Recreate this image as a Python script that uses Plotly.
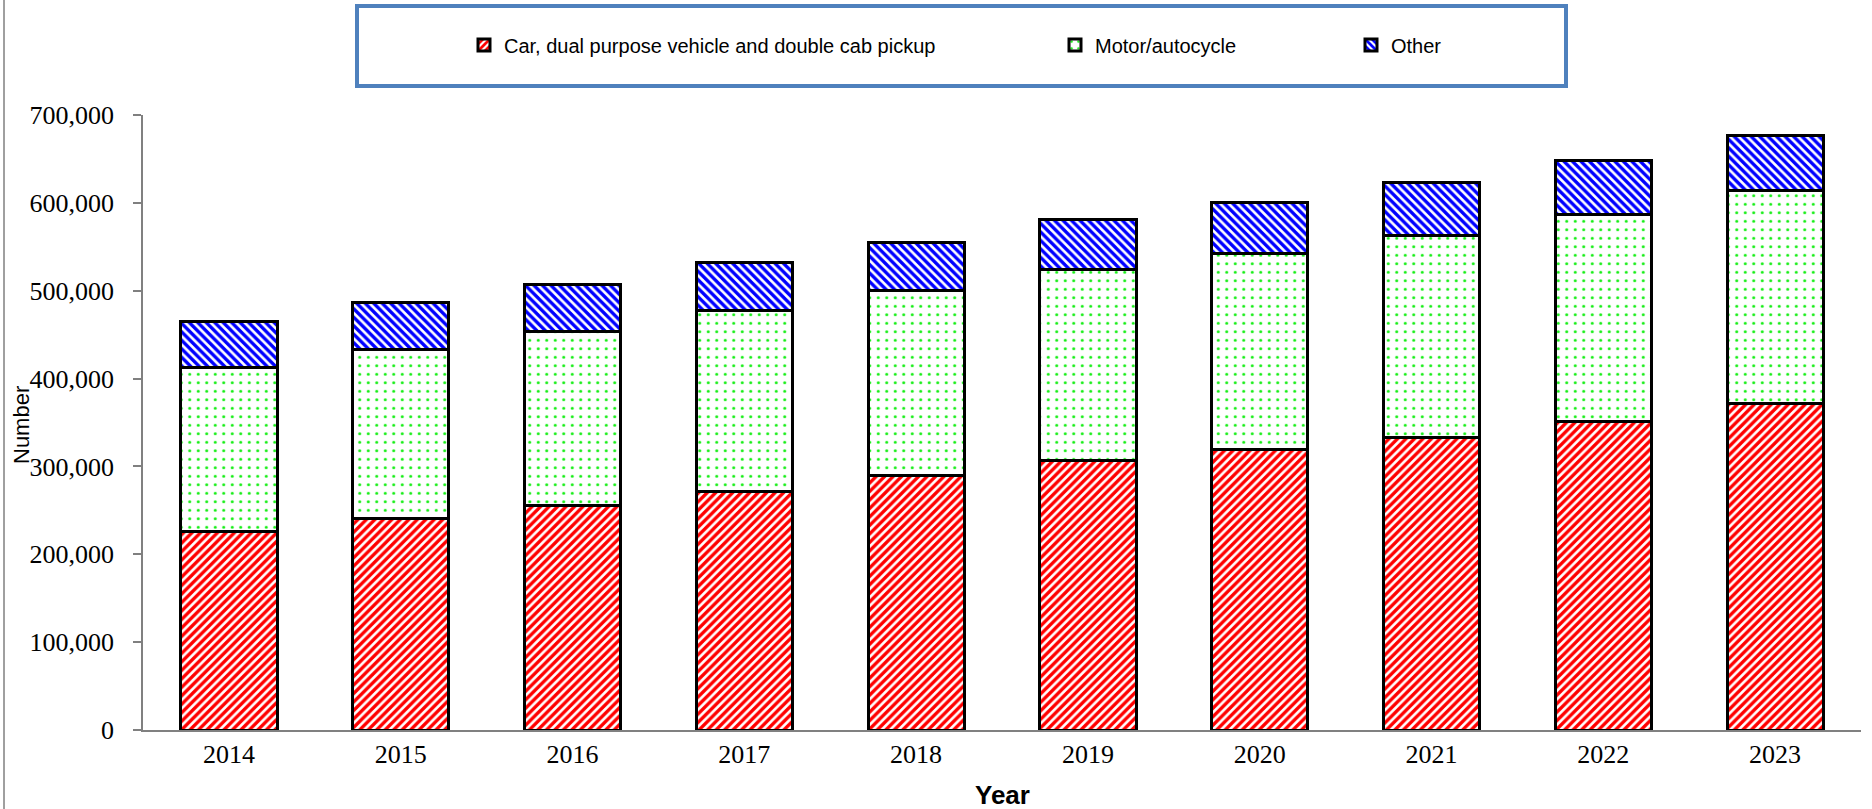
import plotly.graph_objects as go

years = ["2014", "2015", "2016", "2017", "2018", "2019", "2020", "2021", "2022", "2023"]
car = [225700, 240500, 255000, 272000, 289900, 306600, 319500, 333500, 350600, 371800]
motor = [186700, 192800, 199100, 205600, 210500, 217000, 222300, 229500, 236700, 242800]
other = [52300, 53100, 53500, 54300, 55000, 56900, 58400, 60000, 60700, 61800]
series_names = ["Car, dual purpose vehicle and double cab pickup", "Motor/autocycle", "Other"]
y_ticks = [0, 100000, 200000, 300000, 400000, 500000, 600000, 700000]

W, H = 1872, 809
L, R, T, B = 143, 11, 115, 79
PW, PH = W - L - R, H - T - B

def px(x):
    return (x - L) / PW

def py(y):
    return (H - B - y) / PH

fig = go.Figure()
fig.add_trace(go.Bar(
    x=years, y=car, name=series_names[0], legend="legend",
    marker=dict(color="white", line=dict(color="black", width=3),
                pattern=dict(shape="/", fgcolor="#ff0000", bgcolor="white", size=6, solidity=0.56, fgopacity=1)),
))
fig.add_trace(go.Bar(
    x=years, y=motor, name=series_names[1], legend="legend2",
    marker=dict(color="white", line=dict(color="black", width=3),
                pattern=dict(shape=".", fgcolor="#11ee11", bgcolor="white", size=8.5, solidity=0.1, fgopacity=1)),
))
fig.add_trace(go.Bar(
    x=years, y=other, name=series_names[2], legend="legend3",
    marker=dict(color="white", line=dict(color="black", width=3),
                pattern=dict(shape="\\", fgcolor="#0000ff", bgcolor="white", size=6, solidity=0.56, fgopacity=1)),
))

leg_common = dict(orientation="h", yanchor="middle", xanchor="left", y=py(45),
                  bgcolor="rgba(0,0,0,0)", borderwidth=0,
                  font=dict(family="Liberation Sans, Arial", size=20, color="black"))

fig.update_layout(
    width=W, height=H,
    margin=dict(l=L, r=R, t=T, b=B, pad=0),
    paper_bgcolor="white", plot_bgcolor="white",
    barmode="stack", bargap=0.44,
    showlegend=True,
    legend=dict(x=px(464), **leg_common),
    legend2=dict(x=px(1055), **leg_common),
    legend3=dict(x=px(1351), **leg_common),
    xaxis=dict(type="category", showline=True, linecolor="#808080", linewidth=1.5,
               ticks="", showgrid=False,
               tickfont=dict(family="Liberation Serif, Times New Roman", size=26, color="black")),
    yaxis=dict(range=[0, 700000], tickvals=y_ticks, tickformat=",", showgrid=False,
               showline=True, linecolor="#808080", linewidth=1.5,
               ticks="outside", ticklen=8, tickcolor="#808080", tickwidth=1.5,
               ticklabelstandoff=14,
               tickfont=dict(family="Liberation Serif, Times New Roman", size=26, color="black"),
               zeroline=False),
    yaxis2=dict(range=[0, 700000], tickvals=y_ticks, overlaying="y", side="left",
                showticklabels=False, ticks="inside", ticklen=8, tickcolor="#808080",
                tickwidth=1.5, showgrid=False, showline=False, zeroline=False),
    shapes=[
        dict(type="rect", xref="paper", yref="paper", x0=px(357), x1=px(1566), y0=py(86), y1=py(6),
             line=dict(color="#4f81bd", width=4), fillcolor="rgba(0,0,0,0)", layer="above"),
        dict(type="line", xref="paper", yref="paper", x0=px(4), x1=px(4), y0=py(809), y1=py(0),
             line=dict(color="#404040", width=1)),
    ],
    annotations=[
        dict(text="Year", xref="paper", yref="paper", x=px(1002), y=py(795), showarrow=False,
             xanchor="center", yanchor="middle",
             font=dict(family="Liberation Sans, Arial", size=26, color="black", weight="bold")),
        dict(text="Number", xref="paper", yref="paper", x=px(21), y=py(425), showarrow=False,
             textangle=-90, xanchor="center", yanchor="middle",
             font=dict(family="Liberation Sans, Arial", size=22, color="black")),
    ],
)

fig.write_html("out.html", config={"displayModeBar": False},
               post_script="document.body.style.margin='0';document.body.style.overflow='hidden';")
